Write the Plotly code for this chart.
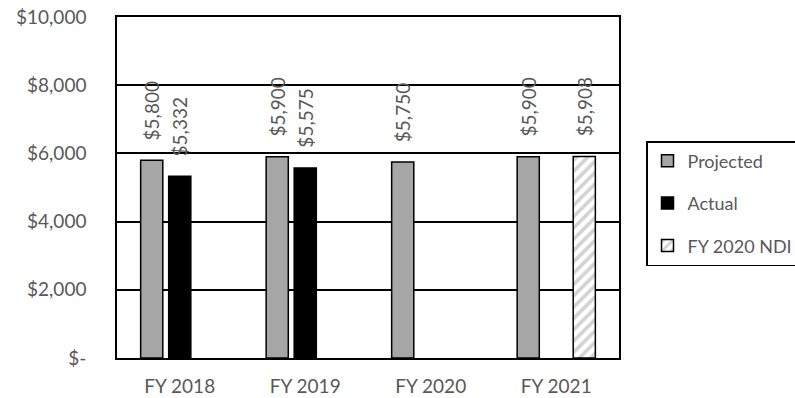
import plotly.graph_objects as go

# Fiscal-year budget figures ($)
years = ["FY 2018", "FY 2019", "FY 2020", "FY 2021"]
projected = [5800, 5900, 5750, 5900]
actual = [5332, 5575, None, None]
ndi = [None, None, None, 5908]

y_ticks = [0, 2000, 4000, 6000, 8000, 10000]
y_tick_text = ["$-", "$2,000", "$4,000", "$6,000", "$8,000", "$10,000"]

FONT = "Lato"
TXT = "#595959"
FS = 19

fig = go.Figure()
fig.add_trace(go.Bar(
    name="Projected", x=years, y=projected, legendgroup="p",
    marker=dict(color="#a6a6a6", line=dict(color="black", width=1.5)),
))
fig.add_trace(go.Bar(
    name="Actual", x=years, y=actual, legendgroup="a",
    marker=dict(color="black", line=dict(color="black", width=1.5)),
))
fig.add_trace(go.Bar(
    name="FY 2020 NDI", x=years, y=ndi, legendgroup="n",
    marker=dict(color="white", line=dict(color="black", width=1.5),
                pattern=dict(shape="/", fgcolor="#a6a6a6", bgcolor="white",
                             size=8, solidity=0.45)),
))

# rotated value labels above each bar
offsets = {0: -28, 1: 0, 2: 28}
for i, series in enumerate([projected, actual, ndi]):
    for yr, v in zip(years, series):
        if v is None:
            continue
        fig.add_annotation(
            x=yr, y=v, xref="x", yref="y", text=f"${v:,}",
            textangle=-90, showarrow=False, xanchor="center", yanchor="bottom",
            xshift=offsets[i], yshift=18,
            font=dict(family=FONT, size=FS, color=TXT),
        )

fig.update_layout(
    width=795, height=398,
    margin=dict(l=117, r=176, t=17, b=40),
    paper_bgcolor="white", plot_bgcolor="white",
    barmode="group", bargap=0.33, bargroupgap=0.21,
    font=dict(family=FONT, size=FS, color=TXT),
    hovermode=False,
    legend=dict(
        xref="container", yref="container",
        x=646 / 795, y=1 - 141 / 398, xanchor="left", yanchor="top",
        bordercolor="black", borderwidth=1.5, bgcolor="white",
        traceorder="grouped", tracegroupgap=16,
        font=dict(family=FONT, size=18, color=TXT),
    ),
)
fig.update_xaxes(
    showline=True, linecolor="black", linewidth=1.5, mirror=True,
    ticks="", ticklabelstandoff=10, automargin=False,
    tickfont=dict(family=FONT, size=FS, color=TXT),
)
fig.update_yaxes(
    range=[0, 10000], tickvals=y_ticks, ticktext=y_tick_text,
    showgrid=True, gridcolor="black", gridwidth=1.5,
    showline=True, linecolor="black", linewidth=1.5, mirror=True,
    ticks="", ticklabelstandoff=25, zeroline=False, automargin=False,
    tickfont=dict(family=FONT, size=FS, color=TXT),
)

fig.write_html("out.html")
